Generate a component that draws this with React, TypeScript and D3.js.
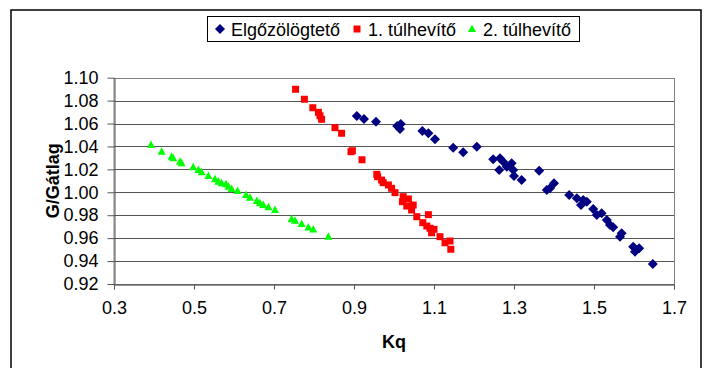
import React, { useRef, useEffect } from 'react';
import * as d3 from 'd3';

type Pt = [number, number];

// Elgőzölögtető (blue diamonds)
const elgozologteto: Pt[] = [
  [0.907, 1.0666], [0.925, 1.064], [0.955, 1.0616], [1.008, 1.0579], [1.017, 1.0596],
  [1.015, 1.0552], [1.071, 1.0535], [1.086, 1.0515], [1.1025, 1.0462], [1.148, 1.0389],
  [1.173, 1.0349], [1.207, 1.0398], [1.248, 1.0288], [1.265, 1.0297], [1.273, 1.0267],
  [1.263, 1.0195], [1.282, 1.0223], [1.298, 1.0195], [1.294, 1.0253], [1.3, 1.0142],
  [1.319, 1.0107], [1.363, 1.0189], [1.382, 1.002], [1.4, 1.0079], [1.39, 1.0035],
  [1.438, 0.9976], [1.457, 0.9948], [1.473, 0.9933], [1.4675, 0.9889], [1.482, 0.9918],
  [1.498, 0.9854], [1.507, 0.9802], [1.519, 0.9817], [1.532, 0.9758], [1.54, 0.9715],
  [1.548, 0.9695], [1.565, 0.9613], [1.569, 0.9642], [1.598, 0.9525], [1.6025, 0.9482],
  [1.613, 0.9511], [1.647, 0.9374],
];

// 1. túlhevítő (red squares)
const tulhevito1: Pt[] = [
  [0.754, 1.0899], [0.776, 1.0812], [0.797, 1.0738], [0.811, 1.0698], [0.815, 1.0668],
  [0.819, 1.0637], [0.8525, 1.0564], [0.869, 1.0515], [0.896, 1.0363], [0.8925, 1.0354],
  [0.92, 1.0284], [0.957, 1.0157], [0.959, 1.0136], [0.969, 1.0107], [0.973, 1.0084],
  [0.986, 1.0064], [0.994, 1.0035], [1.0025, 0.9997], [1.023, 0.9962], [1.036, 0.9942],
  [1.021, 0.9918], [1.032, 0.988], [1.048, 0.9889], [1.044, 0.9846], [1.057, 0.9787],
  [1.086, 0.9805], [1.072, 0.9735], [1.082, 0.9706], [1.09, 0.9686], [1.1, 0.9677],
  [1.094, 0.9647], [1.115, 0.9613], [1.1275, 0.956], [1.14, 0.9575], [1.142, 0.9503],
];

// 2. túlhevítő (green triangles)
const tulhevito2: Pt[] = [
  [0.3925, 1.0413], [0.419, 1.0354], [0.444, 1.0311], [0.448, 1.0297], [0.465, 1.0267],
  [0.469, 1.0253], [0.498, 1.0218], [0.511, 1.0195], [0.519, 1.0175], [0.536, 1.0142],
  [0.5525, 1.0113], [0.561, 1.0092], [0.569, 1.0079], [0.58, 1.007], [0.586, 1.0049],
  [0.594, 1.0029], [0.609, 1.0011], [0.63, 0.9977], [0.64, 0.9953], [0.657, 0.9924],
  [0.665, 0.9904], [0.673, 0.989], [0.686, 0.9869], [0.7025, 0.9846], [0.744, 0.9764],
  [0.7525, 0.9752], [0.769, 0.9723], [0.786, 0.9694], [0.798, 0.9676], [0.836, 0.9613],
];

const xTicks = [0.3, 0.5, 0.7, 0.9, 1.1, 1.3, 1.5, 1.7];
const yTicks = [0.92, 0.94, 0.96, 0.98, 1.0, 1.02, 1.04, 1.06, 1.08, 1.1];
const seriesNames = ['Elgőzölögtető', '1. túlhevítő', '2. túlhevítő'];
const seriesColors = ['#000080', '#ff0000', '#00ff00'];

const App: React.FC = () => {
  const svgRef = useRef<SVGSVGElement>(null);

  useEffect(() => {
    const svg = d3.select(svgRef.current);
    svg.selectAll('*').remove();

    const font = '"Liberation Sans", Arial, sans-serif';
    const plot = { left: 114, right: 674, top: 77.7, bottom: 284 };

    const x = d3.scaleLinear().domain([0.3, 1.7]).range([plot.left, plot.right]);
    const y = d3.scaleLinear().domain([0.92, 1.1]).range([plot.bottom, plot.top]);

    // outer chart border
    svg.append('rect')
      .attr('x', 11).attr('y', 10).attr('width', 690).attr('height', 400)
      .attr('fill', 'white').attr('stroke', 'black').attr('stroke-width', 1.5);

    // gridlines
    svg.append('g')
      .selectAll('line')
      .data(yTicks)
      .join('line')
      .attr('x1', plot.left).attr('x2', plot.right)
      .attr('y1', d => Math.round(y(d)) + 0.5).attr('y2', d => Math.round(y(d)) + 0.5)
      .attr('stroke', '#555').attr('stroke-width', 1);

    // plot area border
    svg.append('rect')
      .attr('x', plot.left).attr('y', Math.round(plot.top) + 0.5)
      .attr('width', plot.right - plot.left + 0.5).attr('height', plot.bottom - plot.top)
      .attr('fill', 'none').attr('stroke', '#808080');

    // axes
    const xAxis = svg.append('g')
      .attr('transform', `translate(0,${Math.round(plot.bottom) + 0.5})`)
      .call(d3.axisBottom(x).tickValues(xTicks).tickSize(5).tickSizeOuter(5).tickPadding(12)
        .tickFormat(d => d3.format('.1f')(+d)));
    xAxis.select('.domain').attr('stroke', '#555');
    xAxis.selectAll('.tick line').attr('stroke', '#555');
    xAxis.selectAll('text').attr('font-family', font).attr('font-size', 18).attr('fill', 'black');

    const yAxis = svg.append('g')
      .attr('transform', `translate(${plot.left + 0.5},0)`)
      .call(d3.axisLeft(y).tickValues(yTicks).tickSize(7).tickSizeOuter(0).tickPadding(9)
        .tickFormat(d => d3.format('.2f')(+d)));
    yAxis.select('.domain').attr('stroke', '#555');
    yAxis.selectAll('.tick line').attr('stroke', '#555');
    yAxis.selectAll('text').attr('font-family', font).attr('font-size', 18).attr('fill', 'black');

    // axis titles
    svg.append('text')
      .attr('x', (plot.left + plot.right) / 2).attr('y', 348)
      .attr('text-anchor', 'middle')
      .attr('font-family', font).attr('font-size', 18).attr('font-weight', 'bold')
      .text('Kq');

    svg.append('text')
      .attr('transform', `translate(59,${(plot.top + plot.bottom) / 2}) rotate(-90)`)
      .attr('text-anchor', 'middle')
      .attr('font-family', font).attr('font-size', 18).attr('font-weight', 'bold')
      .text('G/Gátlag');

    // markers
    const diamond = (cx: number, cy: number) =>
      `M${cx},${cy - 5}L${cx + 5},${cy}L${cx},${cy + 5}L${cx - 5},${cy}Z`;
    const square = (cx: number, cy: number) =>
      `M${cx - 3.5},${cy - 3.5}h7v7h-7Z`;
    const triangle = (cx: number, cy: number) =>
      `M${cx},${cy - 4.5}L${cx + 4},${cy + 3}L${cx - 4},${cy + 3}Z`;
    const shapes = [diamond, square, triangle];
    const allSeries = [elgozologteto, tulhevito1, tulhevito2];

    allSeries.forEach((series, i) => {
      svg.append('g')
        .selectAll('path')
        .data(series)
        .join('path')
        .attr('d', d => shapes[i](x(d[0]), y(d[1])))
        .attr('fill', seriesColors[i]);
    });

    // legend
    const legend = svg.append('g');
    legend.append('rect')
      .attr('x', 207.5).attr('y', 16.5).attr('width', 372).attr('height', 25)
      .attr('fill', 'white').attr('stroke', 'black');
    const itemX = [220, 357, 472];
    seriesNames.forEach((name, i) => {
      legend.append('path')
        .attr('d', shapes[i](itemX[i], 29))
        .attr('fill', seriesColors[i]);
      legend.append('text')
        .attr('x', itemX[i] + 11).attr('y', 35.5)
        .attr('font-family', font).attr('font-size', 18)
        .text(name);
    });
  }, []);

  return (
    <svg ref={svgRef} width={705} height={368}
      style={{ position: 'absolute', left: 0, top: 0, background: 'white' }} />
  );
};

export default App;
